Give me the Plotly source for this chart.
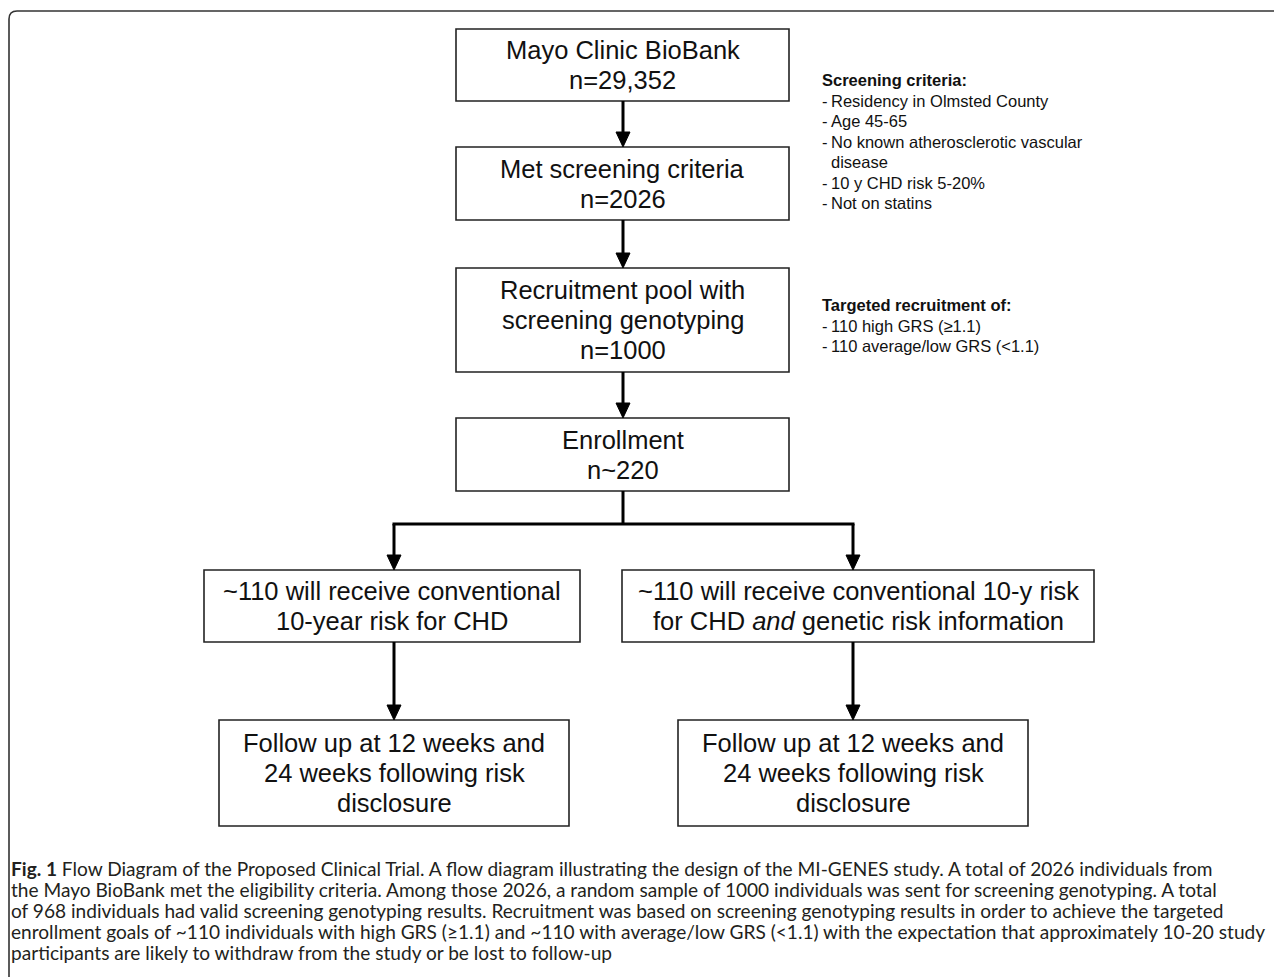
import plotly.graph_objects as go

# ---------------- data (texts) ----------------
main_boxes = [
    ["Mayo Clinic BioBank", "n=29,352"],
    ["Met screening criteria", "n=2026"],
    ["Recruitment pool with", "screening genotyping", "n=1000"],
    ["Enrollment", "n~220"],
]
arm_boxes = [
    ["~110 will receive conventional", "10-year risk for CHD"],
    ["~110 will receive conventional 10-y risk", "for CHD <i>and</i> genetic risk information"],
]
followup_boxes = [
    ["Follow up at 12 weeks and", "24 weeks following risk", "disclosure"],
    ["Follow up at 12 weeks and", "24 weeks following risk", "disclosure"],
]
screening_title = "Screening criteria:"
screening_items = [
    ["Residency in Olmsted County"],
    ["Age 45-65"],
    ["No known atherosclerotic vascular", "disease"],
    ["10 y CHD risk 5-20%"],
    ["Not on statins"],
]
targeted_title = "Targeted recruitment of:"
targeted_items = [
    ["110 high GRS (\u22651.1)"],
    ["110 average/low GRS (<1.1)"],
]
caption_lines = [
    "<b>Fig. 1</b> Flow Diagram of the Proposed Clinical Trial. A flow diagram illustrating the design of the MI-GENES study. A total of 2026 individuals from",
    "the Mayo BioBank met the eligibility criteria. Among those 2026, a random sample of 1000 individuals was sent for screening genotyping. A total",
    "of 968 individuals had valid screening genotyping results. Recruitment was based on screening genotyping results in order to achieve the targeted",
    "enrollment goals of ~110 individuals with high GRS (\u22651.1) and ~110 with average/low GRS (<1.1) with the expectation that approximately 10-20 study",
    "participants are likely to withdraw from the study or be lost to follow-up",
]

# ---------------- layout geometry ----------------
W, H = 1282, 977
OFF = 8  # page body margin
BOX_FONT = dict(family="Arial, Liberation Sans, sans-serif", size=25.5, color="#111111")
NOTE_FONT = dict(family="Arial, Liberation Sans, sans-serif", size=16.5, color="#111111")
CAP_FONT = dict(family="Lato, sans-serif", size=19.1, color="#231f20")
BOX_LINE = dict(color="#222222", width=1.6)
ARROW_COLOR = "#000000"
LINE_H = 30

main_x = (456, 789)
main_cx = 623
main_y = [(29, 101), (147, 220), (268, 372), (418, 491)]
arm_x = [(204, 580), (622, 1094)]
arm_y = (570, 642)
arm_cx = [394, 853]
fu_x = [(219, 569), (678, 1028)]
fu_y = (720, 826)
branch_y = 524

fig = go.Figure()
fig.add_trace(go.Scatter(x=[OFF, W], y=[OFF, H], mode="markers", marker=dict(opacity=0),
                         hoverinfo="skip", showlegend=False))

def box(x0, x1, y0, y1, lines):
    fig.add_shape(type="rect", x0=x0, x1=x1, y0=y0, y1=y1, line=BOX_LINE, fillcolor="white", layer="below")
    cx = (x0 + x1) / 2
    cy = (y0 + y1) / 2
    n = len(lines)
    for i, t in enumerate(lines):
        yy = cy + (i - (n - 1) / 2) * LINE_H
        fig.add_annotation(x=cx, y=yy, text=t, showarrow=False, xanchor="center", yanchor="middle", font=BOX_FONT)

def arrow(x, y0, y1):
    fig.add_shape(type="line", x0=x, x1=x, y0=y0, y1=y1 - 12, line=dict(color=ARROW_COLOR, width=3))
    fig.add_shape(type="path", path=f"M {x-7},{y1-15} L {x+7},{y1-15} L {x},{y1} Z",
                  fillcolor=ARROW_COLOR, line=dict(color=ARROW_COLOR, width=1))

# outer frame
fig.add_shape(type="path", path=f"M 9,{H+20} L 9,19 Q 9,11 17,11 L {W+20},11",
              line=dict(color="#333333", width=1.6))

for (y0, y1), lines in zip(main_y, main_boxes):
    box(main_x[0], main_x[1], y0, y1, lines)
for i in range(3):
    arrow(main_cx, main_y[i][1], main_y[i + 1][0])

# branch
fig.add_shape(type="line", x0=main_cx, x1=main_cx, y0=main_y[3][1], y1=branch_y,
              line=dict(color=ARROW_COLOR, width=3))
fig.add_shape(type="line", x0=arm_cx[0] - 1.5, x1=arm_cx[1] + 1.5, y0=branch_y, y1=branch_y,
              line=dict(color=ARROW_COLOR, width=3))
for k in range(2):
    arrow(arm_cx[k], branch_y, arm_y[0])
    box(arm_x[k][0], arm_x[k][1], arm_y[0], arm_y[1], arm_boxes[k])
    arrow(arm_cx[k], arm_y[1], fu_y[0])
    box(fu_x[k][0], fu_x[k][1], fu_y[0], fu_y[1], followup_boxes[k])

# side notes
def notes(title, items, y_start, x_dash=820, x_text=829, step=20.5):
    fig.add_annotation(x=x_dash, y=y_start, text=f"<b>{title}</b>", showarrow=False, xanchor="left",
                       yanchor="middle", font=NOTE_FONT)
    y = y_start + step
    for item in items:
        fig.add_annotation(x=x_dash, y=y, text="-", showarrow=False, xanchor="left", yanchor="middle", font=NOTE_FONT)
        for line in item:
            fig.add_annotation(x=x_text, y=y, text=line, showarrow=False, xanchor="left", yanchor="middle", font=NOTE_FONT)
            y += step

notes(screening_title, screening_items, 80)
notes(targeted_title, targeted_items, 305)

# caption
cap_y0, cap_step = 868, 21
for i, line in enumerate(caption_lines):
    fig.add_annotation(x=OFF + 0.5, y=cap_y0 + i * cap_step, text=line, showarrow=False, xanchor="left",
                       yanchor="middle", font=CAP_FONT)

fig.update_layout(
    width=W - OFF, height=H - OFF, margin=dict(l=0, r=0, t=0, b=0),
    paper_bgcolor="white", plot_bgcolor="white", showlegend=False,
    xaxis=dict(range=[OFF, W], visible=False, fixedrange=True),
    yaxis=dict(range=[H, OFF], visible=False, fixedrange=True),
)
fig.write_html("out.html")
